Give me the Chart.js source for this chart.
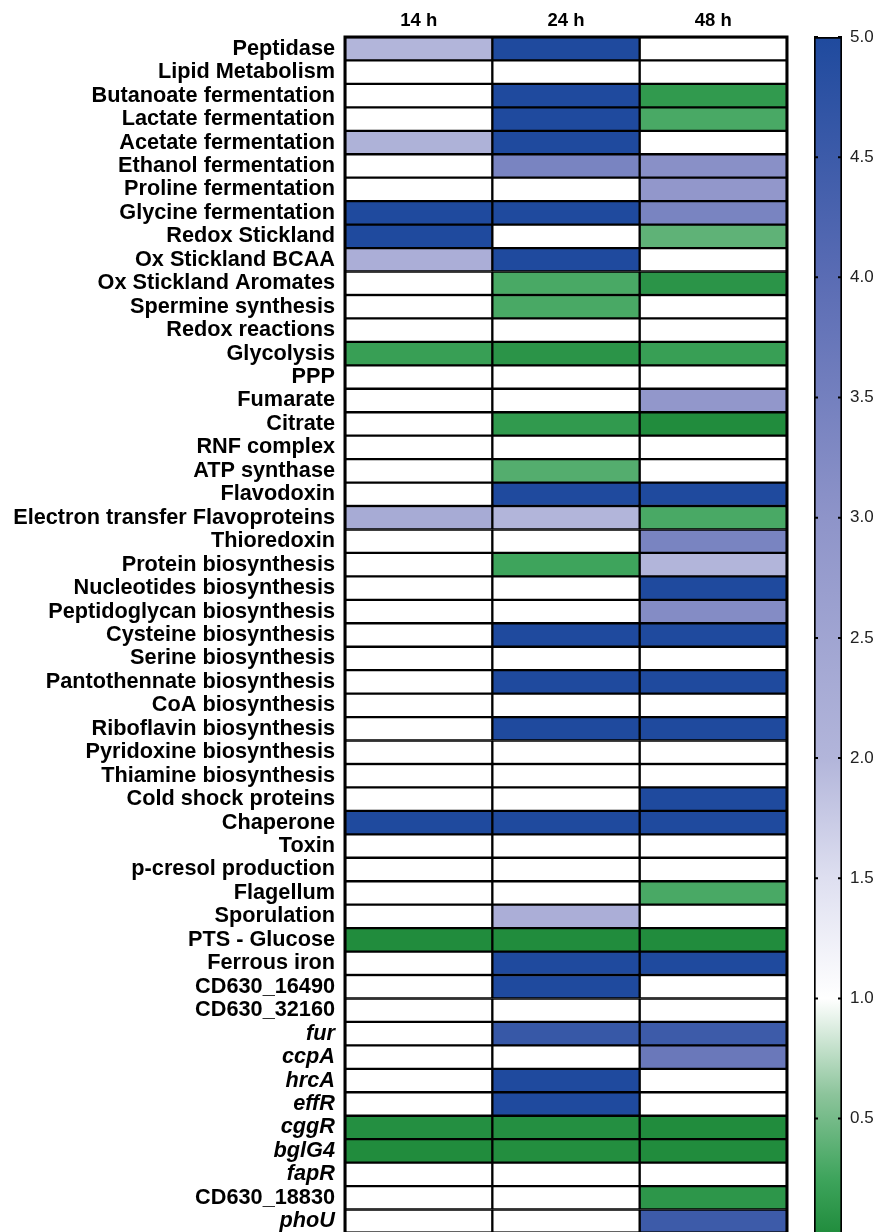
<!DOCTYPE html>
<html>
<head>
<meta charset="utf-8">
<script src="https://cdn.jsdelivr.net/npm/chart.js@4"></script>
<style>
  html, body { margin: 0; padding: 0; background: #fff; overflow: hidden; }
  #wrap { position: relative; width: 882px; height: 1232px; overflow: hidden; }
  #heat { position: absolute; left: 0; top: 0; }
  #bar { position: absolute; left: 790px; top: 0; }
</style>
</head>
<body>
<div id="wrap">
  <canvas id="heat" width="882" height="1256"></canvas>
  <canvas id="bar" width="92" height="1257"></canvas>
</div>
<script>
Chart.defaults.font.family = '"Liberation Sans", Arial, sans-serif'
Chart.defaults.color = '#000'

const times = ['14 h', '24 h', '48 h']

const rows = ['Peptidase','Lipid Metabolism','Butanoate fermentation','Lactate fermentation','Acetate fermentation',
  'Ethanol fermentation','Proline fermentation','Glycine fermentation','Redox Stickland','Ox Stickland BCAA',
  'Ox Stickland Aromates','Spermine synthesis','Redox reactions','Glycolysis','PPP','Fumarate','Citrate',
  'RNF complex','ATP synthase','Flavodoxin','Electron transfer Flavoproteins','Thioredoxin','Protein biosynthesis',
  'Nucleotides biosynthesis','Peptidoglycan biosynthesis','Cysteine biosynthesis','Serine biosynthesis',
  'Pantothennate biosynthesis','CoA biosynthesis','Riboflavin biosynthesis','Pyridoxine biosynthesis',
  'Thiamine biosynthesis','Cold shock proteins','Chaperone','Toxin','p-cresol production','Flagellum',
  'Sporulation','PTS - Glucose','Ferrous iron','CD630_16490','CD630_32160','fur','ccpA','hrcA','effR',
  'cggR','bglG4','fapR','CD630_18830','phoU']

// gene names shown in italics
const italicRows = ['fur','ccpA','hrcA','effR','cggR','bglG4','fapR','phoU']

const values14 = [2.0,1,1,1,2.1, 1,1,5,5,2.2, 1,1,1,0.2,1, 1,1,1,1,1, 2.3,1,1,1,1, 1,1,1,1,1, 1,1,1,5,1, 1,1,1,0.02,1, 1,1,1,1,1, 1,0.05,0.02,1,1,1]
const values24 = [5,1,5,5,5, 3.4,1,5,1,5, 0.3,0.3,1,0.1,1, 1,0.15,1,0.35,5, 2.0,1,0.25,1,1, 5,1,5,1,5, 1,1,1,5,1, 1,1,2.2,0.02,5, 5,1,4.6,1,5, 5,0.05,0.04,1,1,1]
const values48 = [1,1,0.15,0.3,1, 3.1,2.9,3.4,0.4,1, 0.1,1,1,0.2,1, 2.9,0.02,1,1,5, 0.3,3.4,2.0,5,3.2, 5,1,5,1,5, 1,1,5,5,1, 1,0.3,1,0.02,5, 1,1,4.5,3.7,1, 1,0.02,0.02,1,0.12,4.5]

const barTicks = [0.5,1.0,1.5,2.0,2.5,3.0,3.5,4.0,4.5,5.0]

// colour scale: green (0) -> white (1) -> lavender (2) -> blue (5)
const stops = [
  [0, [30,138,58]], [0.25, [62,164,92]], [0.6, [140,196,155]], [1, [255,255,255]],
  [1.5, [222,223,240]], [2, [178,181,218]], [3, [142,148,201]], [4, [90,108,180]], [5, [31,74,158]]
]
function colorFor(v) {
  if (v <= stops[0][0]) return 'rgb(' + stops[0][1].join(',') + ')'
  for (let i = 1; i < stops.length; i++) {
    if (v <= stops[i][0]) {
      const a = stops[i-1], b = stops[i]
      const t = (v - a[0]) / (b[0] - a[0])
      const c = a[1].map((x, k) => Math.round(x + (b[1][k] - x) * t))
      return 'rgb(' + c.join(',') + ')'
    }
  }
  return 'rgb(' + stops[stops.length-1][1].join(',') + ')'
}

const allValues = [values14, values24, values48]

const heatdata = {
  labels: rows,
  datasets: allValues.map((vals, col) => ({
    label: times[col],
    data: vals.map(() => [col, col + 1]),
    backgroundColor: vals.map(colorFor),
    borderColor: '#000',
    borderWidth: 1.5,
    borderSkipped: false,
    grouped: false,
    barPercentage: 1,
    categoryPercentage: 1
  }))
}

const framePlugin = {
  id: 'frame',
  afterDatasetsDraw(chart) {
    const a = chart.chartArea, c = chart.ctx
    c.save()
    c.strokeStyle = '#000'
    c.lineWidth = 3
    c.strokeRect(a.left, a.top, a.right - a.left, a.bottom - a.top)
    c.restore()
  }
}

const ctxHEAT = document.getElementById('heat')
const heatChart = new Chart(ctxHEAT, {
  type: 'bar',
  data: heatdata,
  plugins: [framePlugin],
  options: {
    indexAxis: 'y',
    responsive: false,
    devicePixelRatio: 1,
    animation: false,
    layout: { padding: { right: 95, bottom: 7 } },
    plugins: { legend: { display: false }, tooltip: { enabled: false } },
    scales: {
      x: {
        type: 'linear', position: 'top', min: 0, max: 3,
        grid: { display: false, drawTicks: false },
        border: { display: false },
        afterBuildTicks: (s) => { s.ticks = [0.5, 1.5, 2.5].map(v => ({ value: v })) },
        afterFit: (s) => { s.height = 37 },
        ticks: {
          padding: 5,
          font: { size: 18.5, weight: 'bold' },
          callback: (v) => times[Math.floor(v)]
        }
      },
      y: {
        grid: { display: false, drawTicks: false },
        border: { display: false },
        afterFit: (s) => { s.width = 345 },
        ticks: {
          autoSkip: false,
          padding: 10,
          font: (c) => ({
            size: 21.7, weight: 'bold',
            style: italicRows.includes(rows[c.index]) ? 'italic' : 'normal'
          })
        }
      }
    }
  }
})

// colour bar
const tickMarks = {
  id: 'tickMarks',
  afterDatasetsDraw(chart) {
    const a = chart.chartArea, c = chart.ctx, y = chart.scales.y
    c.save()
    c.strokeStyle = '#000'
    c.lineWidth = 2
    barTicks.forEach(t => {
      const py = y.getPixelForValue(t)
      c.beginPath()
      c.moveTo(a.left, py); c.lineTo(a.left + 4, py)
      c.moveTo(a.right - 4, py); c.lineTo(a.right, py)
      c.stroke()
    })
    c.restore()
  }
}

const ctxBAR = document.getElementById('bar')
const barChart = new Chart(ctxBAR, {
  type: 'bar',
  data: {
    labels: [''],
    datasets: [{
      data: [[0, 5]],
      backgroundColor: (c) => {
        const a = c.chart.chartArea
        if (!a) return '#fff'
        const y = c.chart.scales.y
        const g = c.chart.ctx.createLinearGradient(0, y.getPixelForValue(0), 0, y.getPixelForValue(5))
        stops.forEach(s => g.addColorStop(s[0] / 5, 'rgb(' + s[1].join(',') + ')'))
        return g
      },
      borderColor: '#000',
      borderWidth: 2,
      borderSkipped: false,
      barPercentage: 1,
      categoryPercentage: 1
    }]
  },
  plugins: [tickMarks],
  options: {
    responsive: false,
    devicePixelRatio: 1,
    animation: false,
    layout: { padding: { left: 24, top: 37, bottom: 3 } },
    plugins: { legend: { display: false }, tooltip: { enabled: false } },
    scales: {
      x: { display: false },
      y: {
        position: 'right', min: 0, max: 5,
        grid: { display: false, drawTicks: false },
        border: { display: false },
        afterBuildTicks: (s) => { s.ticks = barTicks.map(v => ({ value: v })) },
        afterFit: (s) => { s.width = 40 },
        ticks: {
          padding: 8,
          color: '#222',
          font: { size: 17 },
          callback: (v) => v.toFixed(1)
        }
      }
    }
  }
})
</script>
</body>
</html>
